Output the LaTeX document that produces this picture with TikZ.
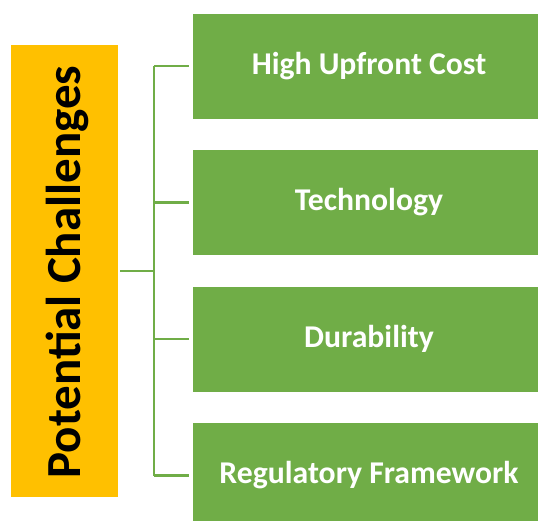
\documentclass[tikz,border=0pt]{standalone}
\usepackage{fontspec}
\setmainfont{Carlito}
\definecolor{offgreen}{HTML}{70AD47}
\definecolor{offyellow}{HTML}{FFC000}
\begin{document}
\begin{tikzpicture}[x=1pt,y=-1pt,
  greenbox/.style={fill=offgreen, draw=white, line width=0.6pt, minimum width=354pt, minimum height=106pt, inner sep=0pt, text=white, font=\bfseries\fontsize{31.7}{36}\selectfont},
  yellowbox/.style={fill=offyellow, draw=none, minimum width=107pt, minimum height=452pt, inner sep=0pt},
  conn/.style={draw=offgreen, line width=2.2pt}]
\useasboundingbox (0,0) rectangle (538,520);
\node[yellowbox] (y) at (64.5,271) {};
\node[rotate=90, font=\bfseries\fontsize{49}{58}\selectfont] (yt) at (67,272) {Potential Challenges};
\node[greenbox] (g1) at (369,66) {High Upfront Cost};
\node[greenbox] (g2) at (369,202.5) {Technology};
\node[greenbox] (g3) at (369,339) {Durability};
\node[greenbox] (g4) at (369,475.5) {Regulatory Framework};
\coordinate (top) at (154,66);
\coordinate (bot) at (154,476);
\coordinate (mid) at (154,271);
\coordinate (ys) at (120,271);
\draw[conn] (top) -- (bot);
\draw[conn] (ys) -- (mid);
\draw[conn] (154,66) -- ([xshift=-3pt]g1.west);
\draw[conn] (154,202.5) -- ([xshift=-3pt]g2.west);
\draw[conn] (154,339) -- ([xshift=-3pt]g3.west);
\draw[conn] (154,475.5) -- ([xshift=-3pt]g4.west);
\end{tikzpicture}
\end{document}
